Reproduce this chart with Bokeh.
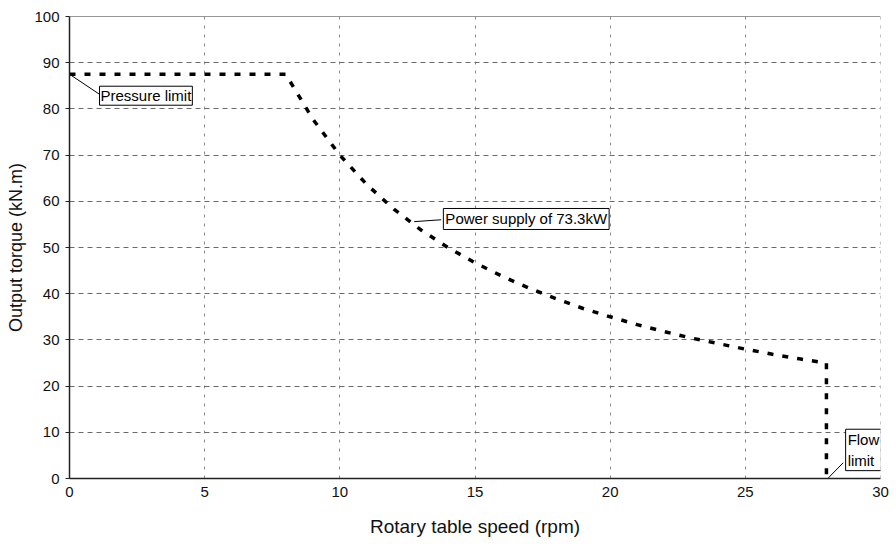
from bokeh.plotting import figure
from bokeh.models import Range1d, Span, Label, FixedTicker, ColumnDataSource
from bokeh.embed import file_html
from bokeh.resources import INLINE

# Output torque envelope of the rotary table drive
speed_rpm = [0, 8, 9, 10, 11, 12, 13, 14, 15, 16, 17, 18, 19, 20,
             21, 22, 23, 24, 25, 26, 27, 28, 28]
torque_knm = [87.5, 87.5, 77.8, 70.0, 63.6, 58.3, 53.8, 50.0, 46.7, 43.8, 41.2, 38.9, 36.8, 35.0,
              33.3, 31.8, 30.4, 29.2, 28.0, 26.9, 25.9, 25.0, 0]

x_ticks = [0, 5, 10, 15, 20, 25, 30]
y_ticks = [0, 10, 20, 30, 40, 50, 60, 70, 80, 90, 100]

FONT = "Liberation Sans"

p = figure(width=896, height=544, output_backend="svg", toolbar_location=None,
           x_range=Range1d(0, 30), y_range=Range1d(0, 100),
           min_border_left=69, min_border_right=16, min_border_top=16, min_border_bottom=66)
p.background_fill_color = "white"
p.border_fill_color = "white"
p.outline_line_color = None

# grid
p.xgrid.ticker = FixedTicker(ticks=x_ticks)
p.ygrid.ticker = FixedTicker(ticks=y_ticks)
p.ygrid.grid_line_color = "#6a6a6a"
p.ygrid.grid_line_dash = "5 4"
p.ygrid.grid_line_width = 1
p.xgrid.grid_line_color = "#8a8a8a"
p.xgrid.grid_line_dash = "3 6"
p.xgrid.grid_line_width = 1

# frame: dark top edge, dashed right edge
p.add_layout(Span(location=100, dimension="width", line_color="#333333", line_width=1))
p.add_layout(Span(location=30, dimension="height", line_color="#8a8a8a", line_dash="3 6", line_width=1))

# axes
p.xaxis.ticker = FixedTicker(ticks=x_ticks)
p.yaxis.ticker = FixedTicker(ticks=y_ticks)
for ax in (p.xaxis[0], p.yaxis[0]):
    ax.axis_line_color = "#222222"
    ax.axis_line_width = 1.5
    ax.major_tick_line_color = "#222222"
    ax.minor_tick_line_color = None
    ax.major_tick_in = 0
    ax.major_label_text_font = FONT
    ax.major_label_text_font_size = "15px"
    ax.major_label_text_color = "#111111"
    ax.axis_label_text_font = FONT
    ax.axis_label_text_font_style = "normal"
    ax.axis_label_text_color = "#111111"
p.xaxis.major_tick_out = 0
p.xaxis.major_label_standoff = 8
p.xaxis.axis_label = "Rotary table speed (rpm)"
p.xaxis.axis_label_text_font_size = "19px"
p.xaxis.axis_label_standoff = 16
p.yaxis.major_tick_out = 4
p.yaxis.major_label_standoff = 6
p.yaxis.axis_label = "Output torque (kN.m)"
p.yaxis.axis_label_text_font_size = "18px"
p.yaxis.axis_label_standoff = 5

# torque envelope
src = ColumnDataSource(data=dict(x=speed_rpm, y=torque_knm))
p.line("x", "y", source=src, line_color="black", line_width=3.5, line_dash="6 9")

# callouts
def callout(x0, y0, x1, y1, text, lx, ly, pad):
    p.segment(x0=[x0], y0=[y0], x1=[x1], y1=[y1], line_color="black", line_width=1)
    p.add_layout(Label(x=lx, y=ly, text=text, text_font=FONT, text_font_size="15px",
                       text_color="black", text_align="left", text_baseline="bottom",
                       border_line_color="black", border_line_width=1,
                       background_fill_color="white", padding=pad))

callout(0, 87.5, 1.1, 83.2, "Pressure limit", 1.11, 80.8, 1)
callout(12.75, 55.6, 13.75, 56.0, "Power supply of 73.3kW", 13.83, 53.9, 2)
callout(28.05, 0, 28.62, 3.4, "Flow\nlimit", 28.71, 1.7, 2)

open("out.html", "w").write(file_html(p, INLINE))
